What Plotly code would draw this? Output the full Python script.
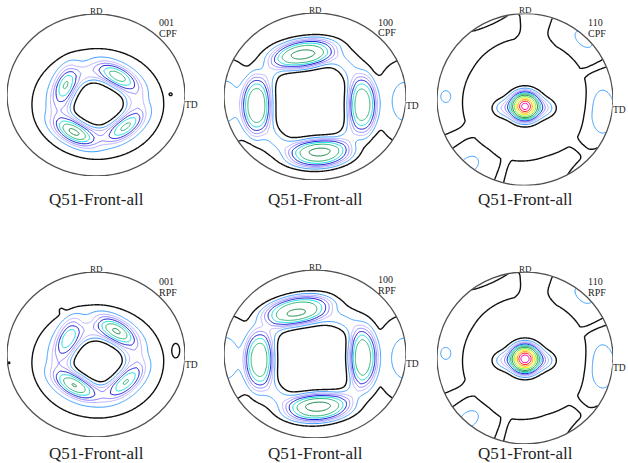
import numpy as np
import plotly.graph_objects as go

W, H = 628, 463

# contour levels (multiples of random) and the line colour of each level
LEVELS = [1.0, 1.4, 1.8, 2.2, 2.7, 3.3, 4.0, 5.0, 6.5, 8.5, 11.0, 14.0, 18.0]
LEVEL_COLORS = ['#111111', '#3a9cff', '#bab2ff', '#8a80ff', '#1414d2', '#14dcdc',
                '#2fb274', '#1f8a4c', '#5cf03c', '#ffe600', '#ff9a00', '#ff1a1a', '#ff00c8']

PANEL_TITLES = ['Q51-Front-all'] * 6
POLE_LABELS = ['001', '100', '110', '001', '100', '110']
PF_KIND = ['CPF', 'CPF', 'CPF', 'RPF', 'RPF', 'RPF']

# pole-figure circles in pixels: centre and half-axes
FRAME_CX = [96, 315, 525, 96, 315, 525]
FRAME_CY = [95, 96.5, 99.5, 354.5, 354, 358]
FRAME_RX = [89, 91, 88, 89, 91, 88]
FRAME_RY = [81, 83.5, 86, 82.5, 84, 86]
TITLE_Y = [199, 199, 199, 453, 453, 453]

# ---- 001 CPF --------------------------------------------------------------
P1_RING = dict(cx=0.02, cy=-0.11, a=1.0, b=0.92, q=2.0)
P1_RING_R = [0.0, 0.22, 0.29, 0.33, 0.37, 0.45, 0.51, 0.56, 0.64, 0.74, 0.8, 1.3]
P1_RING_V = [0.5, 0.75, 1.0, 1.4, 1.75, 1.95, 1.75, 1.4, 1.2, 1.0, 0.8, 0.6]
P1_PK_X = [-0.34, 0.24, -0.25, 0.33, 0.84]
P1_PK_Y = [0.12, 0.23, -0.46, -0.39, 0.01]
P1_PK_SA = [0.15, 0.15, 0.15, 0.15, 0.03]
P1_PK_SB = [0.075, 0.075, 0.075, 0.07, 0.03]
P1_PK_ANG = [75, -33, -32, 40, 0]
P1_PK_AMP = [2.2, 2.6, 3.4, 2.3, 0.25]

# ---- 100 CPF --------------------------------------------------------------
P2_RING = dict(cx=-0.05, cy=-0.07, a=0.40, b=0.45, q=3.0)
P2_RING_R = [0.0, 0.8, 1.0, 1.12, 1.3, 1.5, 1.8, 3.0]
P2_RING_V = [0.4, 0.7, 1.0, 1.4, 1.5, 1.1, 0.8, 0.7]
P2_PK_X = [-0.13, 0.05, -0.65, 0.53, -1.0, 1.0]
P2_PK_Y = [0.51, -0.68, -0.11, -0.10, -0.06, -0.06]
P2_PK_SA = [0.25, 0.24, 0.25, 0.25, 0.33, 0.33]
P2_PK_SB = [0.12, 0.12, 0.11, 0.11, 0.20, 0.20]
P2_PK_ANG = [12, 5, 90, 90, 90, 90]
P2_PK_AMP = [3.8, 3.8, 3.6, 3.4, 0.85, 0.85]
P2_PK_POW = [3, 3, 3, 3, 2, 2]

# ---- 110 CPF --------------------------------------------------------------
P3_BG = 0.6
P3_BAND_T = [0, 20, 25, 30, 60, 72, 80, 90, 100, 150, 200, 210, 218, 235, 248, 253, 258, 290, 312, 318, 324, 345]
P3_BAND_A = [0.6, 0.55, 0.2, 0.55, 0.6, 0.4, 0.1, 0.3, 0.6, 0.7, 0.55, 0.2, 0.55, 0.6, 0.5, 0.2, 0.55, 0.65, 0.5, 0.25, 0.5, 0.6]
P3_PK_X = [0.0, -0.25, 0.23, -0.90, -0.64, 0.88, 0.67, -0.42, 0.67]
P3_PK_Y = [-0.08, -0.10, -0.10, 0.03, -0.76, -0.15, 0.70, 0.90, -0.74]
P3_PK_SA = [0.062, 0.09, 0.09, 0.06, 0.10, 0.20, 0.10, 0.22, 0.20]
P3_PK_SB = [0.060, 0.075, 0.075, 0.05, 0.07, 0.10, 0.06, 0.035, 0.035]
P3_PK_ANG = [0, 0, 0, 90, 40, 90, -45, 25, 42]
P3_PK_AMP = [22.0, 1.0, 1.0, 0.35, 0.45, 0.5, 0.45, -0.45, -0.45]
P3_PK_POW = [1.5, 2, 2, 2, 2, 2, 2, 2, 2]

# ---- 001 RPF --------------------------------------------------------------
P4_RING = dict(cx=0.02, cy=-0.09, a=1.0, b=0.92, q=2.0)
P4_RING_R = [0.0, 0.22, 0.28, 0.32, 0.36, 0.44, 0.50, 0.55, 0.64, 0.74, 0.8, 1.3]
P4_RING_V = [0.5, 0.75, 1.0, 1.4, 1.75, 1.95, 1.75, 1.4, 1.2, 1.0, 0.8, 0.6]
P4_PK_X = [-0.31, 0.23, -0.24, 0.33, 0.90, -0.39, 0.06, -0.98]
P4_PK_Y = [0.21, 0.29, -0.37, -0.33, 0.05, 0.54, -0.93, -0.10]
P4_PK_SA = [0.15, 0.15, 0.15, 0.15, 0.10, 0.03, 0.015, 0.03]
P4_PK_SB = [0.075, 0.075, 0.075, 0.07, 0.05, 0.03, 0.015, 0.03]
P4_PK_ANG = [70, -35, -30, 45, 90, 0, 0, 0]
P4_PK_AMP = [2.1, 3.3, 3.2, 2.2, 0.35, 0.25, 0.25, 0.3]

# ---- 100 RPF --------------------------------------------------------------
P5_RING = dict(cx=-0.02, cy=-0.07, a=0.42, b=0.42, q=3.0)
P5_RING_R = [0.0, 0.8, 1.0, 1.12, 1.3, 1.5, 1.8, 3.0]
P5_RING_V = [0.4, 0.7, 1.0, 1.4, 1.5, 1.1, 0.8, 0.7]
P5_PK_X = [-0.20, 0.03, -0.62, 0.53, -1.0, 1.0]
P5_PK_Y = [0.52, -0.64, -0.07, -0.04, -0.05, -0.05]
P5_PK_SA = [0.27, 0.25, 0.25, 0.25, 0.33, 0.33]
P5_PK_SB = [0.12, 0.12, 0.11, 0.11, 0.20, 0.20]
P5_PK_ANG = [12, 5, 90, 90, 90, 90]
P5_PK_AMP = [3.8, 3.9, 3.4, 3.4, 0.85, 0.85]
P5_PK_POW = [3, 3, 3, 3, 2, 2]

# ---- 110 RPF --------------------------------------------------------------
P6_BG = 0.6
P6_BAND_T = P3_BAND_T
P6_BAND_A = [0.6, 0.55, 0.2, 0.55, 0.6, 0.4, 0.1, 0.3, 0.6, 0.7, 0.55, 0.2, 0.55, 0.6, 0.5, 0.2, 0.55, 0.65, 0.5, 0.25, 0.5, 0.6]
P6_PK_X = [0.0, -0.25, 0.23, -0.90, -0.64, 0.88, 0.67, -0.42, 0.67]
P6_PK_Y = [-0.01, -0.03, -0.03, 0.05, -0.71, -0.10, 0.73, 0.90, -0.74]
P6_PK_SA = [0.062, 0.09, 0.09, 0.06, 0.10, 0.20, 0.10, 0.22, 0.20]
P6_PK_SB = [0.060, 0.075, 0.075, 0.05, 0.07, 0.10, 0.06, 0.035, 0.035]
P6_PK_ANG = [0, 0, 0, 90, 40, 90, -45, 25, 42]
P6_PK_AMP = [24.0, 1.0, 1.0, 0.35, 0.45, 0.5, 0.45, -0.45, -0.45]
P6_PK_POW = [1.5, 2, 2, 2, 2, 2, 2, 2, 2]

BAND_R0, BAND_S = 0.92, 0.22

# grid over the unit disc
N = 181
g = np.linspace(-1.0, 1.0, N)
X, Y = np.meshgrid(g, g)
R = np.hypot(X, Y)


def ring_term(ring, rk, vk):
    rho = ((np.abs(X - ring['cx']) / ring['a']) ** ring['q'] +
           (np.abs(Y - ring['cy']) / ring['b']) ** ring['q']) ** (1.0 / ring['q'])
    return np.interp(rho, rk, vk)


def peak_term(xs, ys, sa, sb, ang, amp, pw=None):
    out = np.zeros_like(X)
    for k in range(len(xs)):
        t = np.radians(ang[k])
        dx, dy = X - xs[k], Y - ys[k]
        u = dx * np.cos(t) + dy * np.sin(t)
        v = -dx * np.sin(t) + dy * np.cos(t)
        d = np.sqrt((u / sa[k]) ** 2 + (v / sb[k]) ** 2)
        p = 2 if pw is None else pw[k]
        out += amp[k] * np.exp(-0.5 * d ** p)
    return out


def band_term(tk, ak):
    th = np.degrees(np.arctan2(Y, X)) % 360
    amp = np.interp(th, tk, ak, period=360)
    return amp * np.exp(-0.5 * np.abs((R - BAND_R0) / BAND_S) ** 4)


fields = [
    ring_term(P1_RING, P1_RING_R, P1_RING_V) +
    peak_term(P1_PK_X, P1_PK_Y, P1_PK_SA, P1_PK_SB, P1_PK_ANG, P1_PK_AMP),
    ring_term(P2_RING, P2_RING_R, P2_RING_V) +
    peak_term(P2_PK_X, P2_PK_Y, P2_PK_SA, P2_PK_SB, P2_PK_ANG, P2_PK_AMP, P2_PK_POW),
    P3_BG + band_term(P3_BAND_T, P3_BAND_A) +
    peak_term(P3_PK_X, P3_PK_Y, P3_PK_SA, P3_PK_SB, P3_PK_ANG, P3_PK_AMP, P3_PK_POW),
    ring_term(P4_RING, P4_RING_R, P4_RING_V) +
    peak_term(P4_PK_X, P4_PK_Y, P4_PK_SA, P4_PK_SB, P4_PK_ANG, P4_PK_AMP),
    ring_term(P5_RING, P5_RING_R, P5_RING_V) +
    peak_term(P5_PK_X, P5_PK_Y, P5_PK_SA, P5_PK_SB, P5_PK_ANG, P5_PK_AMP, P5_PK_POW),
    P6_BG + band_term(P6_BAND_T, P6_BAND_A) +
    peak_term(P6_PK_X, P6_PK_Y, P6_PK_SA, P6_PK_SB, P6_PK_ANG, P6_PK_AMP, P6_PK_POW),
]

# map intensities onto level index so every level sits on an integer
K = len(LEVELS)
xp = [-5.0] + LEVELS + [200.0]
fp = [(-5.0 - LEVELS[0]) / (LEVELS[1] - LEVELS[0])] + list(range(K)) + \
     [K - 1 + (200.0 - LEVELS[-1]) / (LEVELS[-1] - LEVELS[-2])]

# stepped colour scale for levels 1..K-1 (plotly spreads the scale over start..end)
upper_colors = LEVEL_COLORS[1:]
n_up = len(upper_colors)
scale = []
for k, c in enumerate(upper_colors):
    scale.append([k / n_up, c])
    scale.append([(k + 1) / n_up, c])

fig = go.Figure()
layout = dict(width=W, height=H, margin=dict(l=0, r=0, t=0, b=0),
              paper_bgcolor='white', plot_bgcolor='white', showlegend=False)
shapes, annotations = [], []
serif = 'Liberation Serif, Times New Roman, serif'

for i in range(6):
    sfx = '' if i == 0 else str(i + 1)
    idx = np.interp(fields[i], xp, fp)
    idx[R > 1.0] = np.nan
    zi = np.round(idx, 3)
    # coloured levels
    fig.add_trace(go.Contour(
        x=g, y=g, z=zi, xaxis='x' + sfx, yaxis='y' + sfx,
        contours=dict(start=1, end=K - 1, size=1, coloring='lines'),
        colorscale=scale, showscale=False,
        line=dict(width=1.0, smoothing=1), hoverinfo='skip'))
    # lowest (black) level, drawn a little heavier
    fig.add_trace(go.Contour(
        x=g, y=g, z=zi, xaxis='x' + sfx, yaxis='y' + sfx,
        contours=dict(start=0, end=0, size=1, coloring='lines'),
        colorscale=[[0, LEVEL_COLORS[0]], [1, LEVEL_COLORS[0]]], showscale=False,
        line=dict(width=1.4, smoothing=1), hoverinfo='skip'))

    cx, cy, rx, ry = FRAME_CX[i], FRAME_CY[i], FRAME_RX[i], FRAME_RY[i]
    layout['xaxis' + sfx] = dict(domain=[(cx - rx) / W, (cx + rx) / W], range=[-1, 1],
                                 visible=False, fixedrange=True, anchor='y' + sfx)
    layout['yaxis' + sfx] = dict(domain=[1 - (cy + ry) / H, 1 - (cy - ry) / H], range=[-1, 1],
                                 visible=False, fixedrange=True, anchor='x' + sfx)
    shapes.append(dict(type='circle', xref='x' + sfx, yref='y' + sfx,
                       x0=-1, x1=1, y0=-1, y1=1, line=dict(color='#505050', width=1.3)))

    annotations.append(dict(text='RD', x=cx / W, y=1 - (cy - ry - 3) / H, xref='paper', yref='paper',
                            xanchor='center', yanchor='middle', showarrow=False,
                            font=dict(family=serif, size=9, color='#222')))
    annotations.append(dict(text='TD', x=(cx + rx - 1) / W, y=1 - (cy + 10) / H, xref='paper', yref='paper',
                            xanchor='left', yanchor='middle', showarrow=False, bgcolor='white', borderpad=0,
                            font=dict(family=serif, size=9.5, color='#222')))
    annotations.append(dict(text=POLE_LABELS[i], x=(cx + 61) / W, y=1 - (cy - ry + 9) / H,
                            xref='paper', yref='paper', xanchor='left', yanchor='middle', showarrow=False,
                            font=dict(family=serif, size=10, color='#222')))
    annotations.append(dict(text=PF_KIND[i], x=(cx + 61) / W, y=1 - (cy - ry + 20) / H,
                            xref='paper', yref='paper', xanchor='left', yanchor='middle', showarrow=False,
                            font=dict(family=serif, size=10, color='#222')))
    annotations.append(dict(text=PANEL_TITLES[i], x=cx / W, y=1 - TITLE_Y[i] / H,
                            xref='paper', yref='paper', xanchor='center', yanchor='middle', showarrow=False,
                            font=dict(family=serif, size=17, color='#222')))

layout['shapes'] = shapes
layout['annotations'] = annotations
fig.update_layout(**layout)
fig.write_html('out.html')
